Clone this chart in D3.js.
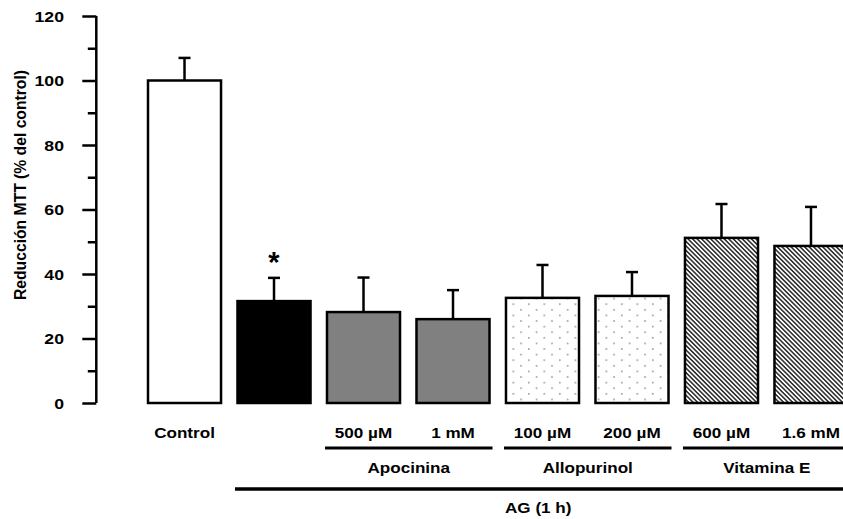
<!DOCTYPE html>
<html>
<head>
<meta charset="utf-8">
<script src="https://cdn.jsdelivr.net/npm/d3@7"></script>
<style>
  body { margin: 0; background: #fff; }
  svg text { font-family: "Liberation Sans", Arial, sans-serif; font-weight: bold; fill: #000; }
</style>
</head>
<body>
<div id="graph"></div>
<script>
// données
const categories = ['Control', 'AG', 'Apo500', 'Apo1', 'Allo100', 'Allo200', 'VitE600', 'VitE16'];
const doseLabels = ['Control', '', '500 µM', '1 mM', '100 µM', '200 µM', '600 µM', '1.6 mM'];
const means = [100, 31.6, 28.2, 26.0, 32.6, 33.2, 51.2, 48.7];
const errors = [7.0, 7.2, 10.7, 9.0, 10.2, 7.4, 10.5, 12.1];
const fills = ['white', 'black', 'gray', 'gray', 'dots', 'dots', 'hatch', 'hatch'];
const groups = [
  { label: 'Apocinina', from: 'Apo500', to: 'Apo1' },
  { label: 'Allopurinol', from: 'Allo100', to: 'Allo200' },
  { label: 'Vitamina E', from: 'VitE600', to: 'VitE16' }
];
const yTicks = [0, 20, 40, 60, 80, 100, 120];

const data = categories.map((c, i) => ({ cat: c, label: doseLabels[i], mean: means[i], err: errors[i], fill: fills[i] }));

const width = 843, height = 519;
const stretch = 1.14; // texte étiré horizontalement comme sur l'original

const svg = d3.select('#graph').append('svg')
  .attr('width', width).attr('height', height);

// motifs
const defs = svg.append('defs');
const dots = defs.append('pattern').attr('id', 'dots')
  .attr('patternUnits', 'userSpaceOnUse').attr('width', 15.5).attr('height', 11.2);
dots.append('rect').attr('width', 15.5).attr('height', 11.2).attr('fill', '#fff');
dots.append('rect').attr('x', 1).attr('y', 1).attr('width', 1.6).attr('height', 1.6).attr('fill', '#999');
dots.append('rect').attr('x', 8.75).attr('y', 6.6).attr('width', 1.6).attr('height', 1.6).attr('fill', '#999');

const hatch = defs.append('pattern').attr('id', 'hatch')
  .attr('patternUnits', 'userSpaceOnUse').attr('width', 3.2).attr('height', 10)
  .attr('patternTransform', 'rotate(-45)');
hatch.append('rect').attr('width', 3.2).attr('height', 10).attr('fill', '#fff');
hatch.append('rect').attr('width', 1.6).attr('height', 10).attr('fill', '#333');

const fillOf = f => ({ white: '#fff', black: '#000', gray: '#808080', dots: 'url(#dots)', hatch: 'url(#hatch)' })[f];

// échelles
const x = d3.scaleBand()
  .domain(categories)
  .range([148, 847.5])
  .paddingInner(0.184)
  .paddingOuter(0);

const y = d3.scaleLinear().domain([0, 120]).range([403, 16]);

// texte étiré
function addText(g, tx, ty, str, size, anchor) {
  return g.append('text')
    .attr('transform', `translate(${tx},${ty}) scale(${stretch},1)`)
    .attr('text-anchor', anchor || 'middle')
    .attr('font-size', size)
    .text(str);
}

// axe Y
const axisX = 96.3;
const yAxis = svg.append('g').attr('transform', `translate(${axisX},0)`)
  .call(d3.axisLeft(y).tickValues(yTicks).tickSize(14).tickPadding(0).tickFormat(''));
yAxis.select('.domain').attr('d', `M0,${y(120)}V${y(0)}`).attr('stroke', '#000').attr('stroke-width', 2.5);
yAxis.selectAll('.tick line').attr('stroke', '#000').attr('stroke-width', 2.5);

const minor = svg.append('g').attr('transform', `translate(${axisX},0)`)
  .call(d3.axisLeft(y).tickValues(d3.range(10, 120, 20)).tickSize(8.5).tickFormat(''));
minor.select('.domain').remove();
minor.selectAll('.tick line').attr('stroke', '#000').attr('stroke-width', 2.5);

const tickLabels = svg.append('g');
yTicks.forEach(t => {
  addText(tickLabels, 64, y(t) + 5.5, t, 15.5, 'end');
});

svg.append('text')
  .attr('transform', `translate(26,185) rotate(-90)`)
  .attr('text-anchor', 'middle')
  .attr('font-size', 17)
  .attr('textLength', 230)
  .attr('lengthAdjust', 'spacingAndGlyphs')
  .text('Reducción MTT (% del control)');

// barres
svg.append('g').selectAll('rect')
  .data(data)
  .join('rect')
  .attr('x', d => x(d.cat))
  .attr('y', d => y(d.mean))
  .attr('width', x.bandwidth())
  .attr('height', d => y(0) - y(d.mean))
  .attr('fill', d => fillOf(d.fill))
  .attr('stroke', '#000')
  .attr('stroke-width', 2.5);

// barres d'erreur
const eb = svg.append('g').attr('stroke', '#000').attr('stroke-width', 2.5);
eb.selectAll('line.v').data(data).join('line').attr('class', 'v')
  .attr('x1', d => x(d.cat) + x.bandwidth() / 2).attr('x2', d => x(d.cat) + x.bandwidth() / 2)
  .attr('y1', d => y(d.mean)).attr('y2', d => y(d.mean + d.err));
eb.selectAll('line.c').data(data).join('line').attr('class', 'c')
  .attr('x1', d => x(d.cat) + x.bandwidth() / 2 - 6).attr('x2', d => x(d.cat) + x.bandwidth() / 2 + 6)
  .attr('y1', d => y(d.mean + d.err)).attr('y2', d => y(d.mean + d.err));

// astérisque
const ag = data[1];
svg.append('text')
  .attr('x', x(ag.cat) + x.bandwidth() / 2)
  .attr('y', y(ag.mean + ag.err) - 6)
  .attr('text-anchor', 'middle')
  .attr('font-size', 29)
  .text('*');

// étiquettes de doses
const lab = svg.append('g');
data.forEach(d => {
  if (d.label) addText(lab, x(d.cat) + x.bandwidth() / 2, 437.5, d.label, 15);
});

// groupes
groups.forEach(g => {
  const x0 = x(g.from) - 2, x1 = x(g.to) + x.bandwidth() + 3;
  svg.append('line').attr('x1', x0).attr('x2', x1).attr('y1', 448).attr('y2', 448)
    .attr('stroke', '#000').attr('stroke-width', 2.8);
  addText(svg, (x0 + x1) / 2, 473, g.label, 15);
});

const agX0 = x('AG') - 2.5, agX1 = x('VitE16') + x.bandwidth();
svg.append('line').attr('x1', agX0).attr('x2', agX1).attr('y1', 489).attr('y2', 489)
  .attr('stroke', '#000').attr('stroke-width', 3.4);
addText(svg, (agX0 + agX1) / 2 - 3, 513, 'AG (1 h)', 15);
</script>
</body>
</html>
